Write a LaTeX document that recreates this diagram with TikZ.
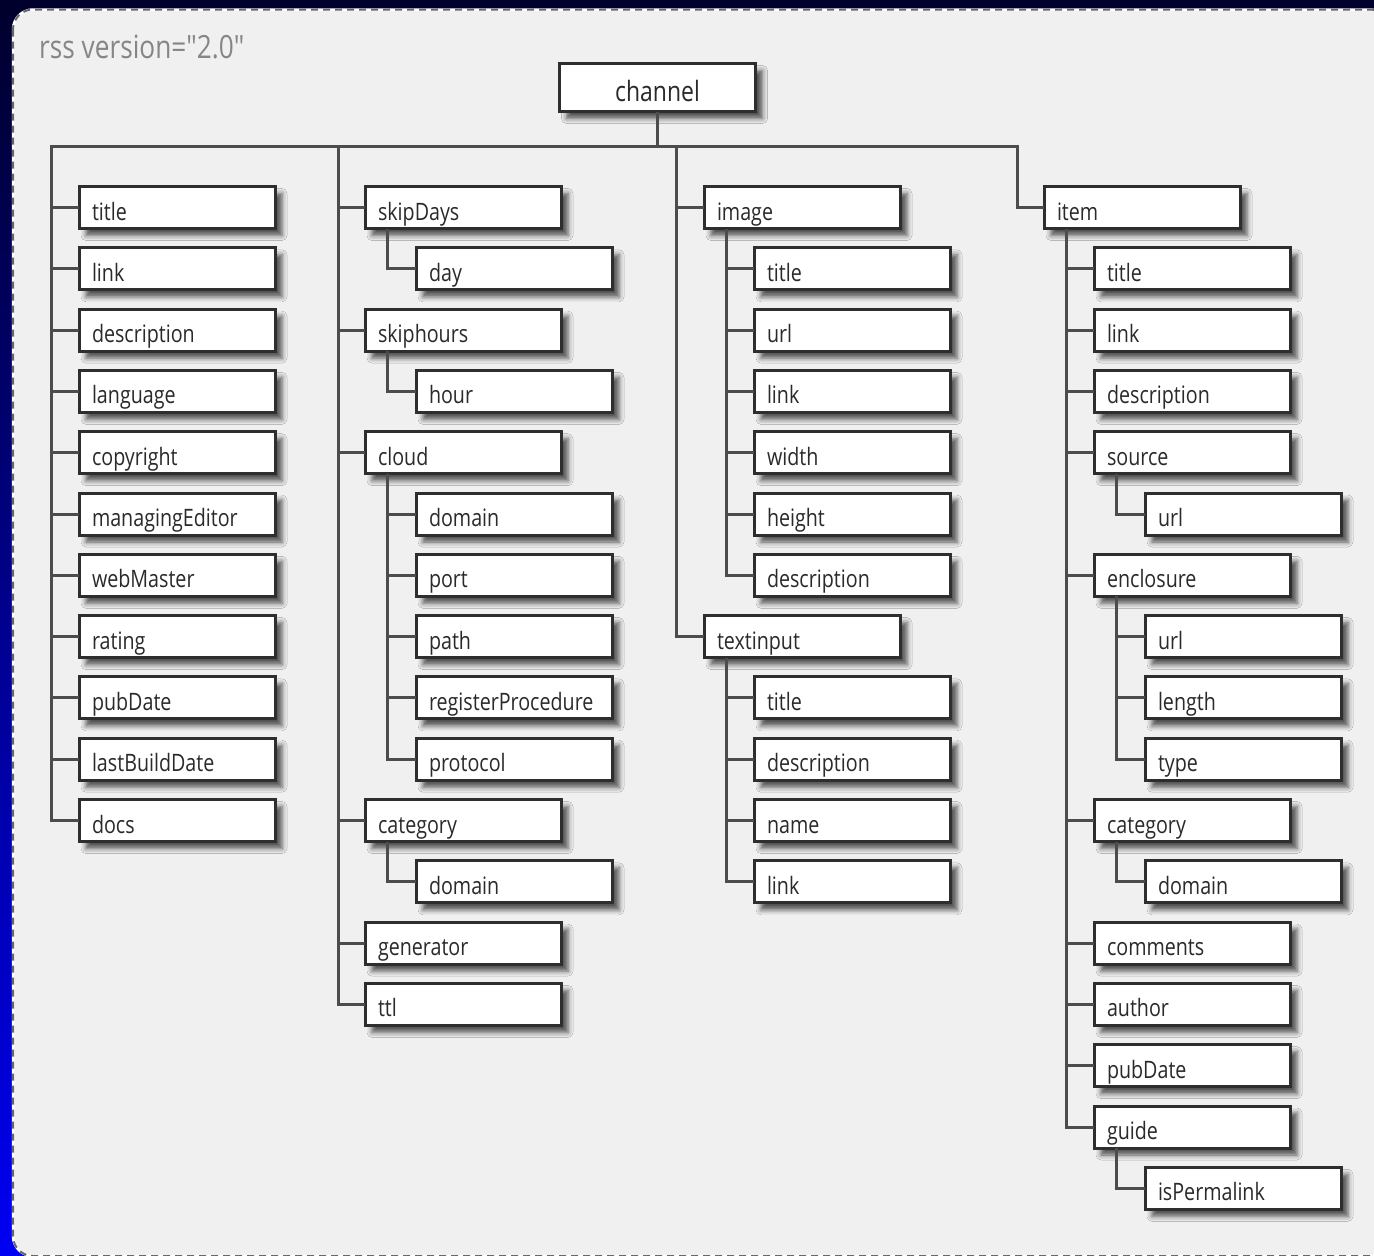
\documentclass[tikz,border=0pt]{standalone}
\usepackage{fontspec}
% a family without TeX ligatures, so that " stays a straight quote
\newfontfamily\rssfont[FakeStretch=0.82]{Open Sans}
\usetikzlibrary{calc,shadows.blur}

\definecolor{boxline}{HTML}{2E2E2E}
\definecolor{wirecol}{HTML}{4C4C4C}
\definecolor{ink}{HTML}{2A2A2A}
\definecolor{panel}{HTML}{F0F0F0}
\definecolor{skytop}{HTML}{00002C}
\definecolor{skybot}{HTML}{0000F2}

% vertical position of row #1 (row pitch 61.3)
\newcommand\rowy[1]{207.5+61.3*#1}

\begin{document}
\begin{tikzpicture}[x=1pt,y=-1pt,
  elem/.style={draw=boxline, line width=3pt, fill=white, anchor=west,
    minimum width=196pt, minimum height=42pt, text width=170pt,
    inner xsep=13pt, inner ysep=0pt, align=left,
    text height=25pt, text depth=0pt, text=ink,
    font=\rssfont\fontsize{24}{28}\selectfont,
    blur shadow={shadow xshift=7pt, shadow yshift=-7pt,
      shadow blur radius=5pt, shadow opacity=66}},
  rootbox/.style={elem, anchor=center, minimum height=48pt,
    text width=170pt, align=center, text height=27pt,
    font=\rssfont\fontsize{28}{32}\selectfont},
  wire/.style={draw=wirecol, line width=3pt, line cap=rect},
  caption/.style={anchor=base west, inner sep=0pt, text=gray!95,
    font=\rssfont\fontsize{32}{36}\selectfont}]

\useasboundingbox (0,0) rectangle (1374,1256);
\clip (0,0) rectangle (1374,1256);

% backdrop and panel
\shade[top color=skytop, bottom color=skybot] (0,0) rectangle (1374,1256);
\path[fill=panel, draw=white, line width=2.5pt, rounded corners=20pt]
  (13,9.5) rectangle (1390,1256);
\draw[draw=black!60, line width=2pt, dash pattern=on 7pt off 5pt,
  rounded corners=20pt] (13,9.5) rectangle (1390,1256);

\node[caption] (ver) at (39,58) {rss version="2.0"};

% root
\node[rootbox] (channel) at (657.5,87.5) {channel};

% column 1
\node[elem] (c1title) at (77.5,{\rowy{0}}) {title};
\node[elem] (c1link) at (77.5,{\rowy{1}}) {link};
\node[elem] (c1desc) at (77.5,{\rowy{2}}) {description};
\node[elem] (c1lang) at (77.5,{\rowy{3}}) {language};
\node[elem] (c1copy) at (77.5,{\rowy{4}}) {copyright};
\node[elem] (c1med) at (77.5,{\rowy{5}}) {managingEditor};
\node[elem] (c1web) at (77.5,{\rowy{6}}) {webMaster};
\node[elem] (c1rate) at (77.5,{\rowy{7}}) {rating};
\node[elem] (c1pub) at (77.5,{\rowy{8}}) {pubDate};
\node[elem] (c1lbd) at (77.5,{\rowy{9}}) {lastBuildDate};
\node[elem] (c1docs) at (77.5,{\rowy{10}}) {docs};

% column 2
\node[elem] (skipdays) at (363.5,{\rowy{0}}) {skipDays};
\node[elem] (day) at (414.5,{\rowy{1}}) {day};
\node[elem] (skiphours) at (363.5,{\rowy{2}}) {skiphours};
\node[elem] (hour) at (414.5,{\rowy{3}}) {hour};
\node[elem] (cloud) at (363.5,{\rowy{4}}) {cloud};
\node[elem] (cldomain) at (414.5,{\rowy{5}}) {domain};
\node[elem] (clport) at (414.5,{\rowy{6}}) {port};
\node[elem] (clpath) at (414.5,{\rowy{7}}) {path};
\node[elem] (clreg) at (414.5,{\rowy{8}}) {registerProcedure};
\node[elem] (clproto) at (414.5,{\rowy{9}}) {protocol};
\node[elem] (c2cat) at (363.5,{\rowy{10}}) {category};
\node[elem] (c2catdom) at (414.5,{\rowy{11}}) {domain};
\node[elem] (gen) at (363.5,{\rowy{12}}) {generator};
\node[elem] (ttl) at (363.5,{\rowy{13}}) {ttl};

% column 3
\node[elem] (image) at (702.5,{\rowy{0}}) {image};
\node[elem] (imtitle) at (752.5,{\rowy{1}}) {title};
\node[elem] (imurl) at (752.5,{\rowy{2}}) {url};
\node[elem] (imlink) at (752.5,{\rowy{3}}) {link};
\node[elem] (imwidth) at (752.5,{\rowy{4}}) {width};
\node[elem] (imheight) at (752.5,{\rowy{5}}) {height};
\node[elem] (imdesc) at (752.5,{\rowy{6}}) {description};
\node[elem] (textin) at (702.5,{\rowy{7}}) {textinput};
\node[elem] (tititle) at (752.5,{\rowy{8}}) {title};
\node[elem] (tidesc) at (752.5,{\rowy{9}}) {description};
\node[elem] (tiname) at (752.5,{\rowy{10}}) {name};
\node[elem] (tilink) at (752.5,{\rowy{11}}) {link};

% column 4
\node[elem] (item) at (1042.5,{\rowy{0}}) {item};
\node[elem] (ittitle) at (1092.5,{\rowy{1}}) {title};
\node[elem] (itlink) at (1092.5,{\rowy{2}}) {link};
\node[elem] (itdesc) at (1092.5,{\rowy{3}}) {description};
\node[elem] (source) at (1092.5,{\rowy{4}}) {source};
\node[elem] (srcurl) at (1143.5,{\rowy{5}}) {url};
\node[elem] (encl) at (1092.5,{\rowy{6}}) {enclosure};
\node[elem] (enurl) at (1143.5,{\rowy{7}}) {url};
\node[elem] (enlen) at (1143.5,{\rowy{8}}) {length};
\node[elem] (entype) at (1143.5,{\rowy{9}}) {type};
\node[elem] (itcat) at (1092.5,{\rowy{10}}) {category};
\node[elem] (itcatdom) at (1143.5,{\rowy{11}}) {domain};
\node[elem] (itcomm) at (1092.5,{\rowy{12}}) {comments};
\node[elem] (itauth) at (1092.5,{\rowy{13}}) {author};
\node[elem] (itpub) at (1092.5,{\rowy{14}}) {pubDate};
\node[elem] (guide) at (1092.5,{\rowy{15}}) {guide};
\node[elem] (perma) at (1143.5,{\rowy{16}}) {isPermalink};

% bus under the root
\coordinate (bus1) at (51.5,146.5);
\coordinate (bus2) at (338.5,146.5);
\coordinate (bus3) at (676,146.5);
\coordinate (bus4) at (1017.5,146.5);
\draw[wire] (channel.south) -- (channel.south |- bus1);
\draw[wire] (bus1) -- (bus4);

\foreach \n in {c1title,c1link,c1desc,c1lang,c1copy,c1med,c1web,c1rate,c1pub,c1lbd,c1docs}
  \draw[wire] (bus1) |- (\n.west);
\foreach \n in {skipdays,skiphours,cloud,c2cat,gen,ttl}
  \draw[wire] (bus2) |- (\n.west);
\foreach \n in {image,textin}
  \draw[wire] (bus3) |- (\n.west);
\draw[wire] (bus4) |- (item.west);

% parent-to-child elbows
\foreach \p/\c in {skipdays/day, skiphours/hour,
    cloud/cldomain, cloud/clport, cloud/clpath, cloud/clreg, cloud/clproto,
    c2cat/c2catdom,
    image/imtitle, image/imurl, image/imlink, image/imwidth, image/imheight, image/imdesc,
    textin/tititle, textin/tidesc, textin/tiname, textin/tilink,
    item/ittitle, item/itlink, item/itdesc, item/source, item/encl, item/itcat,
    item/itcomm, item/itauth, item/itpub, item/guide,
    source/srcurl, encl/enurl, encl/enlen, encl/entype, itcat/itcatdom, guide/perma}
  \draw[wire] ($(\p.south west)+(24,0)$) |- (\c.west);

\end{tikzpicture}
\end{document}
